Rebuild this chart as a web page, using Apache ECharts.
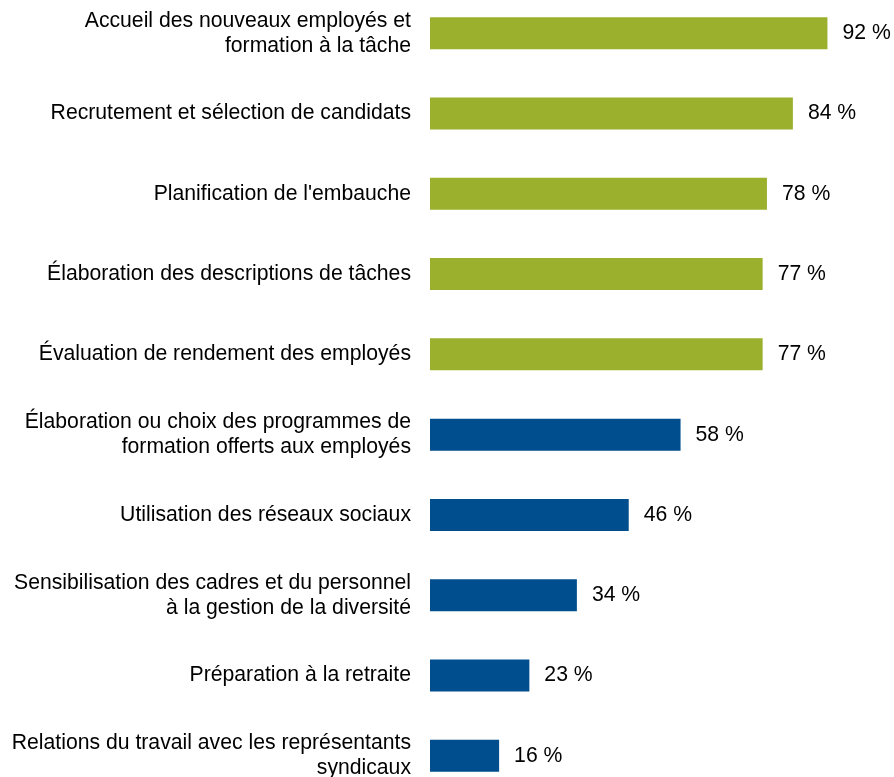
<!DOCTYPE html>
<html>
<head>
<meta charset="utf-8">
<script src="https://cdn.jsdelivr.net/npm/echarts@6/dist/echarts.min.js"></script>
<style>
html,body{margin:0;padding:0;background:#fff;}
#chart{width:894px;height:777px;}
</style>
</head>
<body>
<div id="chart"></div>
<script>
const categories = [
  "Accueil des nouveaux employés et\nformation à la tâche",
  "Recrutement et sélection de candidats",
  "Planification de l'embauche",
  "Élaboration des descriptions de tâches",
  "Évaluation de rendement des employés",
  "Élaboration ou choix des programmes de\nformation offerts aux employés",
  "Utilisation des réseaux sociaux",
  "Sensibilisation des cadres et du personnel\nà la gestion de la diversité",
  "Préparation à la retraite",
  "Relations du travail avec les représentants\nsyndicaux"
];
const values = [92, 84, 78, 77, 77, 58, 46, 34, 23, 16];
const highlightCount = 5;

const GREEN = '#9BB02C';
const BLUE = '#004E8D';

const chart = echarts.init(document.getElementById('chart'));
chart.setOption({
  animation: false,
  backgroundColor: '#fff',
  grid: { left: 430, right: 32, top: -7, bottom: -19, containLabel: false, outerBoundsMode: 'none' },
  xAxis: {
    type: 'value', min: 0, max: 100,
    show: false
  },
  yAxis: {
    type: 'category',
    data: categories,
    inverse: true,
    axisLine: { show: false },
    axisTick: { show: false },
    axisLabel: {
      margin: 19,
      fontFamily: 'Liberation Sans, Arial, sans-serif',
      fontSize: 21.2,
      lineHeight: 25,
      color: '#000',
      align: 'right'
    }
  },
  series: [{
    type: 'bar',
    data: values,
    barWidth: 32,
    itemStyle: {
      color: p => p.dataIndex < highlightCount ? GREEN : BLUE
    },
    label: {
      show: true,
      position: 'right',
      distance: 15,
      formatter: p => p.value + ' %',
      fontFamily: 'Liberation Sans, Arial, sans-serif',
      fontSize: 21.2,
      color: '#000'
    }
  }]
});
</script>
</body>
</html>
